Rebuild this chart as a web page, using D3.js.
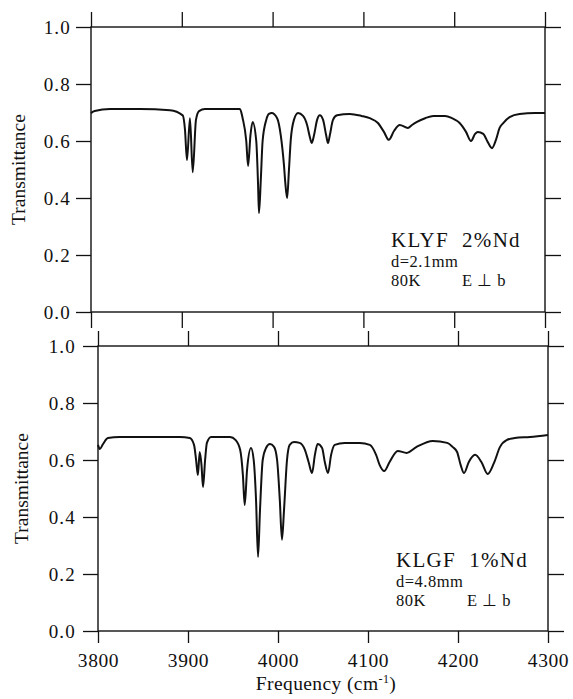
<!DOCTYPE html>
<html>
<head>
<meta charset="utf-8">
<script src="https://cdn.jsdelivr.net/npm/d3@7"></script>
<style>
  html, body { margin: 0; padding: 0; background: #fff; }
  svg text { font-family: "Liberation Serif", "Times New Roman", serif; fill: #111; }
</style>
</head>
<body>
<svg id="chart" width="573" height="699" font-family="Liberation Serif"></svg>
<script>
// tick values
const freqTicks = [3800, 3900, 4000, 4100, 4200, 4300];
const transTicks = [0.0, 0.2, 0.4, 0.6, 0.8, 1.0];

// KLYF 2%Nd, d=2.1mm (upper panel)
const freqTop = [3800, 3804, 3821, 3854, 3887, 3901, 3903.5, 3905.7, 3909, 3912, 3915.6, 3919, 3925.5,
  3964, 3967, 3971, 3973, 3975.6, 3978, 3982, 3984, 3985, 3987, 3989, 3993, 3996, 3999, 4005, 4009,
  4012.5, 4014, 4016, 4018, 4020, 4023.5, 4028, 4033.5, 4038, 4041, 4043, 4045.6, 4049, 4052, 4055.6,
  4059, 4061, 4063, 4066.5, 4071, 4085, 4098, 4107, 4116, 4122.6, 4128, 4133.7, 4140, 4149, 4153.5,
  4159, 4168, 4177, 4190, 4197.6, 4206, 4213, 4218.5, 4223, 4226, 4232, 4237, 4241.6, 4246, 4250,
  4254, 4261, 4272, 4289, 4300];
const transTop = [0.698, 0.705, 0.712, 0.712, 0.708, 0.69, 0.64, 0.533, 0.68, 0.49, 0.674, 0.705, 0.712,
  0.712, 0.68, 0.60, 0.512, 0.62, 0.667, 0.60, 0.446, 0.347, 0.463, 0.60, 0.674, 0.695, 0.698, 0.68, 0.62,
  0.516, 0.453, 0.40, 0.498, 0.604, 0.674, 0.698, 0.688, 0.656, 0.614, 0.593, 0.62, 0.674, 0.69, 0.674,
  0.62, 0.593, 0.62, 0.674, 0.69, 0.695, 0.688, 0.68, 0.663, 0.632, 0.604, 0.635, 0.656, 0.646, 0.656,
  0.667, 0.68, 0.688, 0.688, 0.68, 0.663, 0.632, 0.60, 0.625, 0.632, 0.625, 0.596, 0.575, 0.604, 0.646,
  0.663, 0.684, 0.695, 0.698, 0.698];

// KLGF 1%Nd, d=4.8mm (lower panel)
const freqBottom = [3800, 3802, 3805.6, 3811, 3824, 3858, 3891, 3902, 3906.7, 3909, 3911, 3913, 3915,
  3916.7, 3919, 3921, 3925.6, 3946.7, 3953, 3958, 3961, 3963, 3965.6, 3970, 3973, 3975.6, 3977.8, 3980,
  3983, 3986.7, 3991, 3995.6, 3999, 4002, 4004.4, 4006.7, 4010, 4013, 4017.8, 4024, 4030, 4034, 4037.8,
  4041, 4044, 4049, 4052, 4055.6, 4059, 4063, 4074, 4091, 4102, 4109, 4113, 4118, 4124, 4133, 4143,
  4154, 4172, 4188, 4194, 4199, 4203, 4206.7, 4212, 4219, 4226, 4233, 4240, 4246.7, 4254, 4263, 4280, 4300];
const transBottom = [0.653, 0.639, 0.656, 0.677, 0.681, 0.681, 0.681, 0.677, 0.653, 0.60, 0.547, 0.628, 0.582,
  0.505, 0.60, 0.66, 0.681, 0.681, 0.67, 0.635, 0.547, 0.442, 0.565, 0.642, 0.60, 0.46, 0.26, 0.425,
  0.60, 0.642, 0.656, 0.646, 0.60, 0.46, 0.32, 0.425, 0.60, 0.653, 0.663, 0.66, 0.635, 0.593, 0.554,
  0.618, 0.656, 0.642, 0.593, 0.554, 0.618, 0.653, 0.66, 0.66, 0.653, 0.618, 0.582, 0.561, 0.593, 0.632, 0.625,
  0.646, 0.667, 0.66, 0.646, 0.628, 0.582, 0.554, 0.593, 0.618, 0.593, 0.551, 0.59, 0.646, 0.67, 0.677, 0.681, 0.688];

const notesTop = ["KLYF  2%Nd", "d=2.1mm", "80K", "E \u22A5 b"];
const notesBottom = ["KLGF  1%Nd", "d=4.8mm", "80K", "E \u22A5 b"];

const svg = d3.select("#chart");
const FONT = "Liberation Serif, Times New Roman, serif";

const panels = [
  { freq: freqTop, trans: transTop, notes: notesTop, x0: 91, x1: 545, y0: 312, y1: 27, lblPad: 5,
    noteX: 391, noteY: 247, titleX: 25, showX: false },
  { freq: freqBottom, trans: transBottom, notes: notesBottom, x0: 98, x1: 548, y0: 631, y1: 346, lblPad: 7,
    noteX: 396, noteY: 567, titleX: 28, showX: true }
];

function drawPanel(p) {
  const x = d3.scaleLinear().domain([3800, 4300]).range([p.x0, p.x1]);
  const y = d3.scaleLinear().domain([0, 1]).range([p.y0, p.y1]);
  const g = svg.append("g");

  const style = sel => {
    sel.attr("font-family", FONT);
    sel.select(".domain").remove();
    sel.selectAll("line").attr("stroke", "#111").attr("stroke-width", 1.3);
  };

  g.append("g").attr("transform", `translate(${p.x0},0)`)
    .call(d3.axisLeft(y).tickValues(transTicks).tickFormat(d3.format(".1f"))
      .tickSizeInner(15).tickSizeOuter(0).tickPadding(p.lblPad))
    .call(style)
    .selectAll("text").attr("font-size", 19).attr("letter-spacing", 1.2).attr("dy", "0.34em");

  g.append("g").attr("transform", `translate(${p.x1},0)`)
    .call(d3.axisRight(y).tickValues(transTicks).tickFormat("").tickSizeInner(16).tickSizeOuter(0))
    .call(style);

  g.append("g").attr("transform", `translate(0,${p.y1})`)
    .call(d3.axisTop(x).tickValues(freqTicks).tickFormat("").tickSizeInner(15).tickSizeOuter(0))
    .call(style);

  const bottom = g.append("g").attr("transform", `translate(0,${p.y0})`)
    .call(d3.axisBottom(x).tickValues(freqTicks)
      .tickFormat(p.showX ? d3.format("d") : "")
      .tickSizeInner(p.showX ? 12 : 16).tickSizeOuter(0).tickPadding(10))
    .call(style);
  bottom.selectAll("text").attr("font-size", 19.5).attr("letter-spacing", 0.6);

  g.append("rect")
    .attr("x", p.x0).attr("y", p.y1)
    .attr("width", p.x1 - p.x0).attr("height", p.y0 - p.y1)
    .attr("fill", "none").attr("stroke", "#111").attr("stroke-width", 1.4);

  const pts = p.freq.map((f, i) => [f, p.trans[i]]);
  g.append("path")
    .datum(pts)
    .attr("fill", "none")
    .attr("stroke", "#111")
    .attr("stroke-width", 2)
    .attr("stroke-linejoin", "round")
    .attr("d", d3.line().x(d => x(d[0])).y(d => y(d[1])).curve(d3.curveMonotoneX));

  g.append("text")
    .attr("transform", `translate(${p.titleX},${(p.y0 + p.y1) / 2}) rotate(-90)`)
    .attr("text-anchor", "middle")
    .attr("font-size", 19.5)
    .text("Transmittance");

  const notes = g.append("g").attr("font-size", 16.5).attr("letter-spacing", 0.5);
  notes.append("text").attr("x", p.noteX).attr("y", p.noteY)
    .attr("font-size", 21).attr("letter-spacing", 1.3)
    .style("white-space", "pre").text(p.notes[0]);
  notes.append("text").attr("x", p.noteX).attr("y", p.noteY + 20).text(p.notes[1]);
  notes.append("text").attr("x", p.noteX).attr("y", p.noteY + 39).text(p.notes[2]);
  notes.append("text").attr("x", p.noteX + 71).attr("y", p.noteY + 39).text(p.notes[3]);
}

panels.forEach(drawPanel);

const xl = svg.append("text")
  .attr("x", 326).attr("y", 690)
  .attr("text-anchor", "middle")
  .attr("font-size", 19.5)
  .attr("letter-spacing", 0.4)
  .text("Frequency (cm");
xl.append("tspan").attr("dy", -7).attr("font-size", 12).text("-1");
xl.append("tspan").attr("dy", 7).text(")");
</script>
</body>
</html>
